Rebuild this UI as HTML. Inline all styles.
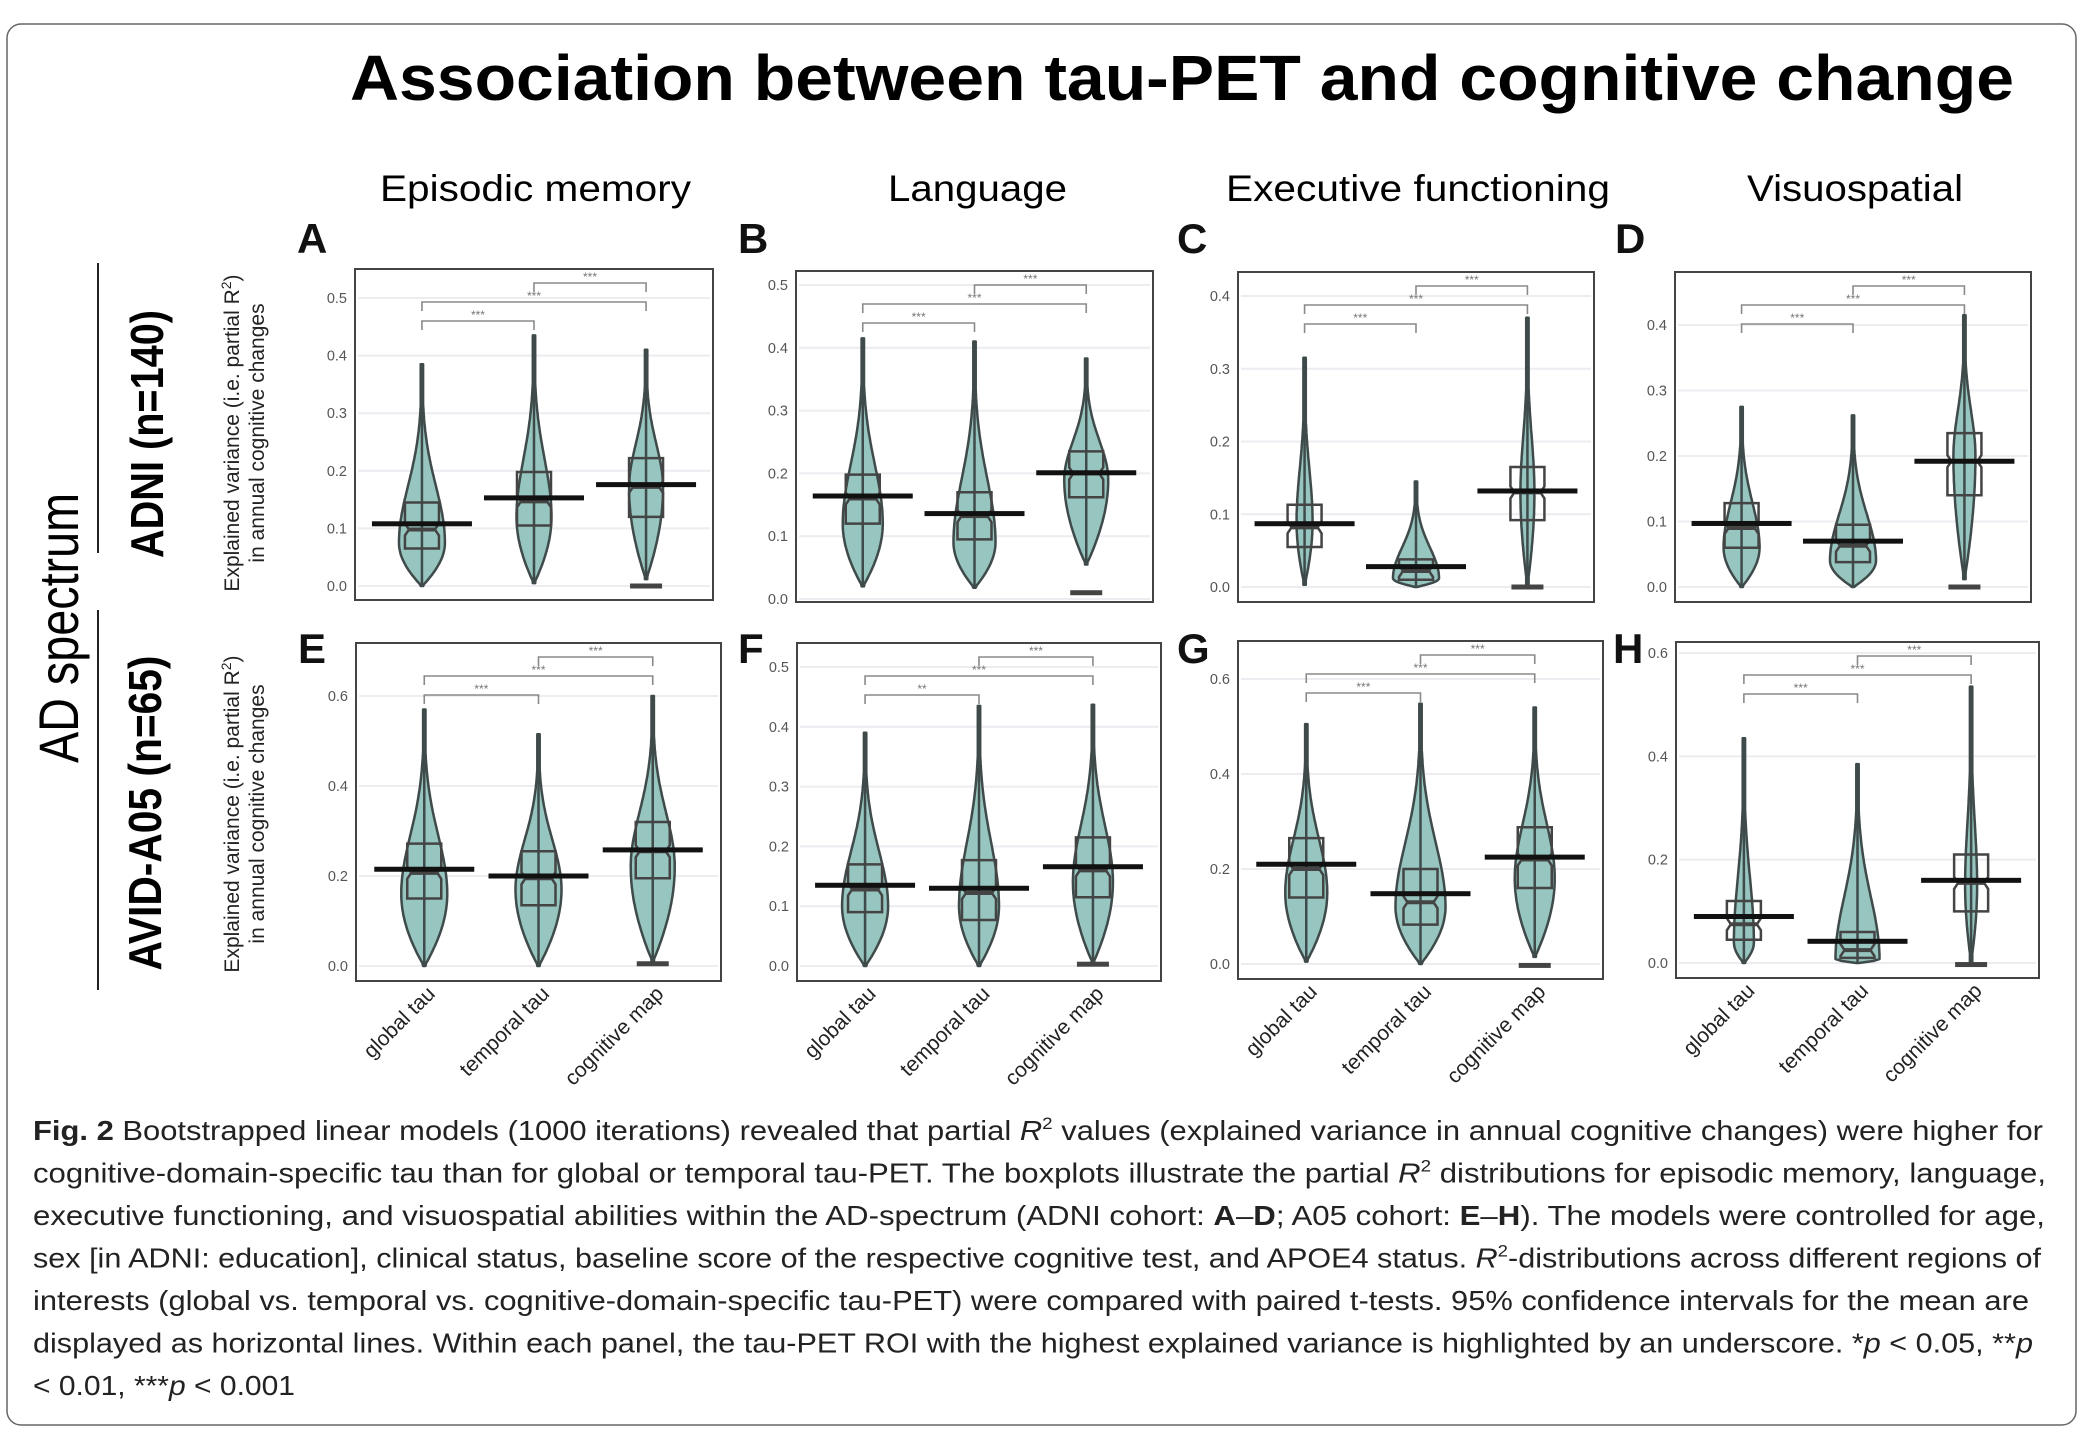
<!DOCTYPE html>
<html><head><meta charset="utf-8"><style>
html,body{margin:0;padding:0;background:#fff}
svg{display:block}
text{font-family:"Liberation Sans",sans-serif}
</style></head><body>
<svg id="fig" width="2086" height="1444" viewBox="0 0 2086 1444" xmlns="http://www.w3.org/2000/svg">
<rect x="7" y="24" width="2069" height="1401" rx="14" fill="#fff" stroke="#666" stroke-width="1.5"/>
<text x="350" y="100" font-size="64" font-weight="bold" textLength="1664" lengthAdjust="spacingAndGlyphs">Association between tau-PET and cognitive change</text>
<text x="380" y="201" font-size="37" textLength="311" lengthAdjust="spacingAndGlyphs">Episodic memory</text>
<text x="888" y="201" font-size="37" textLength="179" lengthAdjust="spacingAndGlyphs">Language</text>
<text x="1226" y="201" font-size="37" textLength="384" lengthAdjust="spacingAndGlyphs">Executive functioning</text>
<text x="1747" y="201" font-size="37" textLength="216" lengthAdjust="spacingAndGlyphs">Visuospatial</text>
<text transform="translate(78,628) rotate(-90)" text-anchor="middle" font-size="56" textLength="270" lengthAdjust="spacingAndGlyphs">AD spectrum</text>
<line x1="98" y1="263" x2="98" y2="553" stroke="#222" stroke-width="2"/>
<line x1="98" y1="610" x2="98" y2="990" stroke="#222" stroke-width="2"/>
<text transform="translate(163,434) rotate(-90)" text-anchor="middle" font-size="46" font-weight="bold" textLength="248" lengthAdjust="spacingAndGlyphs">ADNI (n=140)</text>
<text transform="translate(161,813) rotate(-90)" text-anchor="middle" font-size="46" font-weight="bold" textLength="315" lengthAdjust="spacingAndGlyphs">AVID-A05 (n=65)</text>
<g id="ytitles"></g>
<g id="panels"></g>
<g id="caption" font-size="28" fill="#222"></g>
</svg>
<script>
const categories = ["global tau", "temporal tau", "cognitive map"];
const panelLetters = ["A","B","C","D","E","F","G","H"];
const tickMaxValues = [0.5, 0.5, 0.4, 0.4, 0.6, 0.5, 0.6, 0.6];
const tickSteps = [0.1, 0.1, 0.1, 0.1, 0.2, 0.1, 0.2, 0.2];
const minValues = [[0,0.005,0.012],[0.02,0.018,0.055],[0.003,0,0.003],[0,0,0.012],[0,0,0.01],[0,0,0.005],[0.005,0,0.015],[0,0,0.003]];
const maxValues = [[0.385,0.435,0.41],[0.415,0.41,0.383],[0.315,0.145,0.37],[0.275,0.262,0.415],[0.57,0.515,0.6],[0.39,0.435,0.437],[0.505,0.548,0.54],[0.435,0.385,0.535]];
const modeValues = [[0.075,0.12,0.17],[0.12,0.09,0.19],[0.09,0.012,0.13],[0.06,0.04,0.2],[0.16,0.17,0.22],[0.1,0.1,0.14],[0.15,0.12,0.18],[0.04,0.008,0.15]];
const densityPeak = [[23,17.5,17],[20,21,22],[8,23,7],[18,23,11],[23,23,22],[23,20,20],[21,25,20],[10,22,6]];
const q1Values = [[0.065,0.105,0.12],[0.12,0.095,0.162],[0.055,0.01,0.092],[0.06,0.038,0.14],[0.15,0.135,0.195],[0.09,0.077,0.115],[0.14,0.083,0.16],[0.045,0.01,0.1]];
const medianValues = [[0.098,0.147,0.172],[0.16,0.132,0.2],[0.082,0.022,0.13],[0.09,0.063,0.192],[0.207,0.195,0.255],[0.128,0.122,0.16],[0.2,0.13,0.22],[0.075,0.025,0.155]];
const q3Values = [[0.145,0.198,0.222],[0.198,0.17,0.235],[0.113,0.038,0.165],[0.128,0.095,0.235],[0.272,0.255,0.32],[0.17,0.177,0.215],[0.265,0.2,0.288],[0.12,0.06,0.21]];
const meanValues = [[0.108,0.153,0.176],[0.164,0.136,0.201],[0.087,0.028,0.132],[0.097,0.07,0.192],[0.215,0.2,0.258],[0.135,0.13,0.166],[0.21,0.148,0.225],[0.09,0.042,0.16]];
const floorValues = [0, 0.01, 0, 0, 0.005, 0.003, -0.003, -0.003];
const sigLabels = [["***","***","***"],["***","***","***"],["***","***","***"],["***","***","***"],["***","***","***"],["**","***","***"],["***","***","***"],["***","***","***"]];

const layout = [
 {x0:355,x1:713,top:269,bottom:600,zeroY:586,maxY:298,lx:297,ly:253},
 {x0:796,x1:1153,top:271,bottom:602,zeroY:599,maxY:285,lx:738,ly:253},
 {x0:1238,x1:1594,top:272,bottom:602,zeroY:587,maxY:296,lx:1177,ly:253},
 {x0:1675,x1:2031,top:272,bottom:602,zeroY:587,maxY:325,lx:1615,ly:253},
 {x0:356,x1:721,top:643,bottom:981,zeroY:966,maxY:696,lx:298,ly:663},
 {x0:797,x1:1161,top:643,bottom:981,zeroY:966,maxY:667,lx:738,ly:663},
 {x0:1238,x1:1603,top:641,bottom:979,zeroY:964,maxY:679,lx:1177,ly:663},
 {x0:1676,x1:2039,top:642,bottom:978,zeroY:963,maxY:653,lx:1613,ly:663}
];
const NS = "http://www.w3.org/2000/svg";
function mk(tag, attrs, parent){const e=document.createElementNS(NS,tag);for(const k in attrs)e.setAttribute(k,attrs[k]);parent.appendChild(e);return e;}

const yt = document.getElementById("ytitles");
[[433],[814]].forEach((r,i)=>{
  const g = mk("g",{},yt);
  
  
  const t1 = mk("text",{transform:`translate(239,${r[0]}) rotate(-90)`,"text-anchor":"middle","font-size":"21",fill:"#222"},g);
  t1.innerHTML = 'Explained variance (i.e. partial R<tspan font-size="14" dy="-8">2</tspan><tspan dy="8">)</tspan>';
  const t2 = mk("text",{transform:`translate(264,${r[0]}) rotate(-90)`,"text-anchor":"middle","font-size":"21",fill:"#222"},g);
  t2.textContent = "in annual cognitive changes";
});

const panels = document.getElementById("panels");
panelLetters.forEach((L,p)=>{
  const lay = layout[p];
  const g = mk("g",{},panels);
  
  
  const tmax = tickMaxValues[p];
  const yScale = v => lay.zeroY + (lay.maxY - lay.zeroY) * v / tmax;
  const xScale = i => lay.x0 + (lay.x1 - lay.x0) * (0.187 + 0.313 * i);
  const lt = mk("text",{x:lay.lx,y:lay.ly,"font-size":"42","font-weight":"bold",fill:"#111"},g);
  
  
  lt.textContent = L;
  const nT = Math.round(tmax / tickSteps[p]);
  for(let k=0;k<=nT;k++){
    const v = k*tickSteps[p]; const y = yScale(v);
    const gl = mk("line",{x1:lay.x0+3,x2:lay.x1-3,y1:y,y2:y,stroke:"#ececf1","stroke-width":"2"},g);
    
    
    const tl = mk("text",{x:lay.x0-8,y:y+5,"text-anchor":"end","font-size":"14.5",fill:"#555"},g);
    
    
    tl.textContent = v.toFixed(1);
  }
  const frame = mk("rect",{x:lay.x0,y:lay.top,width:lay.x1-lay.x0,height:lay.bottom-lay.top,fill:"none",stroke:"#444","stroke-width":"2"},g);
  
  
  categories.forEach((c,i)=>{
    const cx = xScale(i);
    const mn = minValues[p][i], mx = maxValues[p][i], pk = modeValues[p][i], W = densityPeak[p][i];
    const hw = v => {
      let w;
      if (v <= pk) { const s=(v-mn)/Math.max(pk-mn,1e-6); w = W*Math.pow(Math.sin(Math.max(0,Math.min(1,s))*Math.PI/2),0.9); }
      else { const t=(v-pk)/(mx-pk); w = W*Math.exp(-Math.pow(t/0.45,2)); }
      return Math.max(w,1.2);
    };
    const N=100, L1=[], R1=[];
    for(let k=0;k<=N;k++){const v=mn+(mx-mn)*k/N;const y=yScale(v);const w=hw(v);L1.push([cx-w,y]);R1.push([cx+w,y]);}
    const pts = L1.concat(R1.reverse()).map(q=>q[0].toFixed(1)+","+q[1].toFixed(1)).join(" ");
    const vg = mk("g",{},g);
    
    
    mk("polygon",{points:pts,fill:"#97c5bf",stroke:"#3f4a4a","stroke-width":"2.5","stroke-linejoin":"round"},vg);
    mk("line",{x1:cx,x2:cx,y1:yScale(mn),y2:yScale(mx),stroke:"#3f4a4a","stroke-width":"2.5"},vg);
    const bw=17, nd=4, nh=6;
    const yq1=yScale(q1Values[p][i]), yq3=yScale(q3Values[p][i]), ym=yScale(medianValues[p][i]);
    const d = `M${cx-bw},${yq1} L${cx-bw},${ym+nh} L${cx-bw+nd},${ym} L${cx-bw},${ym-nh} L${cx-bw},${yq3} L${cx+bw},${yq3} L${cx+bw},${ym-nh} L${cx+bw-nd},${ym} L${cx+bw},${ym+nh} L${cx+bw},${yq1} Z`;
    const bx = mk("path",{d:d,fill:"none",stroke:"#444","stroke-width":"2.5"},vg);
    
    
    mk("line",{x1:cx-bw+nd,x2:cx+bw-nd,y1:ym,y2:ym,stroke:"#444","stroke-width":"4"},vg);
    const ml = mk("rect",{x:cx-50,y:yScale(meanValues[p][i])-2.5,width:100,height:5,fill:"#111"},vg);
    
    
    if (i===2) {
      const fl = mk("rect",{x:cx-16,y:yScale(floorValues[p])-2.5,width:32,height:5,fill:"#444"},vg);
      
      
    }
    if (p>=4) {
      const xl = mk("text",{transform:`translate(${cx+12},${lay.bottom+14}) rotate(-45)`,"text-anchor":"end","font-size":"21",fill:"#222"},g);
      
      
      xl.textContent = c;
    }
  });
  [[0,1,52,0],[0,2,33,1],[1,2,14,2]].forEach(b=>{
    const xa=xScale(b[0]), xb=xScale(b[1]), y=lay.top+b[2];
    const br = mk("path",{d:`M${xa},${y+9} L${xa},${y} L${xb},${y} L${xb},${y+9}`,fill:"none",stroke:"#8a8a8a","stroke-width":"1.6"},g);
    
    
    const st = mk("text",{x:(xa+xb)/2,y:y-2,"text-anchor":"middle","font-size":"12",fill:"#777"},g);
    
    
    st.textContent = sigLabels[p][b[3]];
  });
});

const cap = document.getElementById("caption");
const capLines = [
 ['<tspan font-weight="bold">Fig. 2</tspan>  Bootstrapped linear models (1000 iterations) revealed that partial <tspan font-style="italic">R</tspan><tspan font-size="17" dy="-11">2</tspan><tspan dy="11"> values (explained variance in annual cognitive changes) were higher for</tspan>',2010],
 ['cognitive-domain-specific tau than for global or temporal tau-PET. The boxplots illustrate the partial <tspan font-style="italic">R</tspan><tspan font-size="17" dy="-11">2</tspan><tspan dy="11"> distributions for episodic memory, language,</tspan>',2013],
 ['executive functioning, and visuospatial abilities within the AD-spectrum (ADNI cohort: <tspan font-weight="bold">A</tspan>–<tspan font-weight="bold">D</tspan>; A05 cohort: <tspan font-weight="bold">E</tspan>–<tspan font-weight="bold">H</tspan>). The models were controlled for age,',2012],
 ['sex [in ADNI: education], clinical status, baseline score of the respective cognitive test, and APOE4 status. <tspan font-style="italic">R</tspan><tspan font-size="17" dy="-11">2</tspan><tspan dy="11">-distributions across different regions of</tspan>',2008],
 ['interests (global vs. temporal vs. cognitive-domain-specific tau-PET) were compared with paired t-tests. 95% confidence intervals for the mean are',1996],
 ['displayed as horizontal lines. Within each panel, the tau-PET ROI with the highest explained variance is highlighted by an underscore. *<tspan font-style="italic">p</tspan> &lt; 0.05, **<tspan font-style="italic">p</tspan>',2000],
 ['&lt; 0.01, ***<tspan font-style="italic">p</tspan> &lt; 0.001',262]
];
capLines.forEach((l,i)=>{
  const t = mk("text",{x:33,y:1140+42.5*i,textLength:l[1],lengthAdjust:"spacingAndGlyphs"},cap);
  
  
  t.innerHTML = l[0];
});
</script>
</body></html>
